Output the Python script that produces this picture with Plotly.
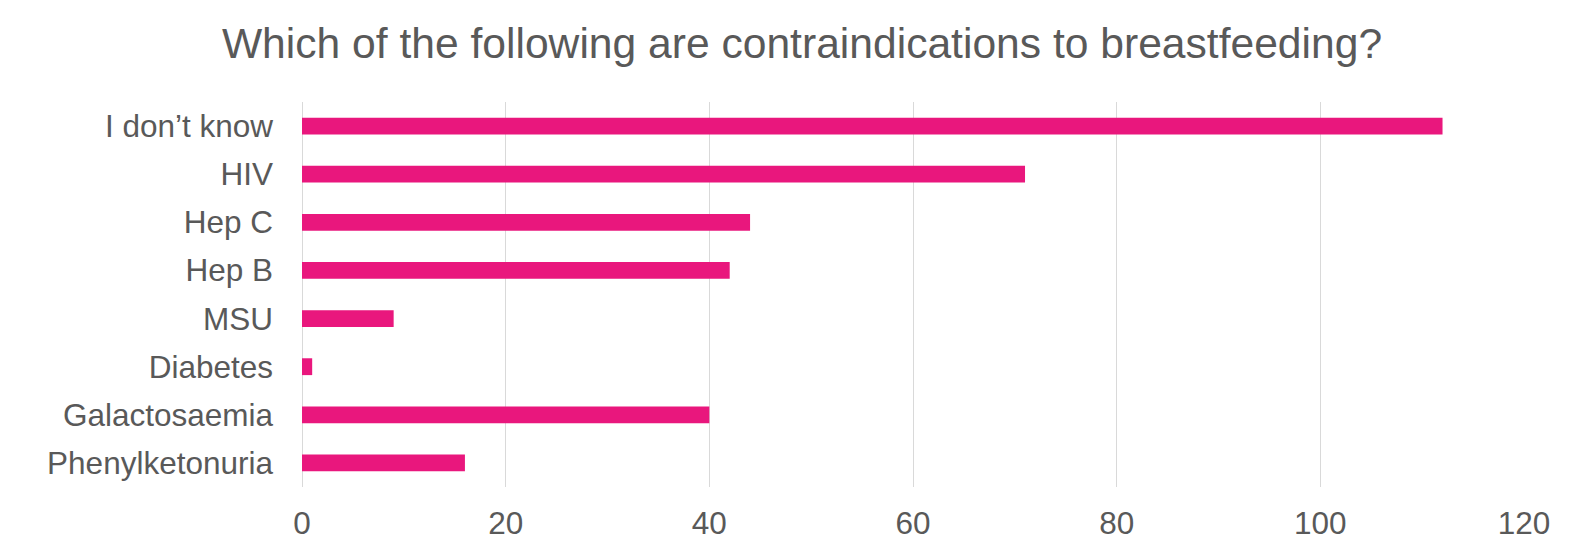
import plotly.graph_objects as go

categories = ["I don’t know", "HIV", "Hep C", "Hep B", "MSU", "Diabetes", "Galactosaemia", "Phenylketonuria"]
values = [112, 71, 44, 42, 9, 1, 40, 16]
x_ticks = [0, 20, 40, 60, 80, 100, 120]

TEXT = "#595959"
FONT = "Liberation Sans, Arial, sans-serif"

fig = go.Figure(go.Bar(
    x=values,
    y=categories,
    orientation="h",
    marker=dict(color="#E9177D", line=dict(width=0)),
    width=0.35,
))

fig.update_layout(
    width=1577,
    height=544,
    margin=dict(l=302, r=53, t=102, b=57, autoexpand=False),
    paper_bgcolor="white",
    plot_bgcolor="white",
    showlegend=False,
    font=dict(family=FONT, color=TEXT, size=31.5),
    title=dict(
        text="Which of the following are contraindications to breastfeeding?",
        font=dict(family=FONT, size=42.6, color=TEXT),
        x=802 / 1577,
        xanchor="center",
        xref="container",
        y=1 - 43 / 544,
        yanchor="middle",
        yref="container",
    ),
    xaxis=dict(
        range=[0, 120],
        tickvals=x_ticks,
        showgrid=True,
        gridcolor="#D9D9D9",
        gridwidth=1,
        zeroline=True,
        zerolinecolor="#D9D9D9",
        zerolinewidth=1,
        showline=False,
        ticks="",
        automargin=False,
        ticklabelstandoff=14,
        tickfont=dict(size=31.5, color=TEXT, family=FONT),
        fixedrange=True,
    ),
    yaxis=dict(
        categoryorder="array",
        categoryarray=categories[::-1],
        showgrid=False,
        zeroline=False,
        showline=False,
        ticks="",
        automargin=False,
        ticklabelstandoff=28,
        tickfont=dict(size=31.5, color=TEXT, family=FONT),
        fixedrange=True,
    ),
)

fig.write_html("out.html")
